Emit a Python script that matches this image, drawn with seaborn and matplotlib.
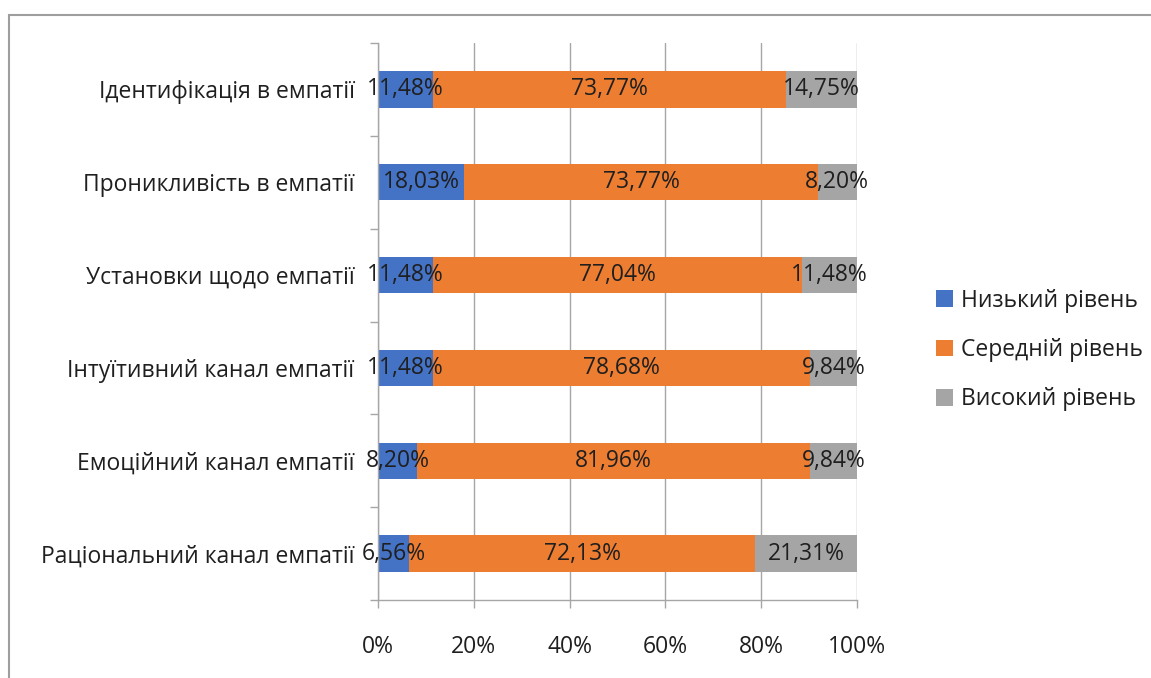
import matplotlib
matplotlib.use("Agg")
import matplotlib.pyplot as plt
from matplotlib.patches import Rectangle, Patch
import seaborn as sns
import pandas as pd
import numpy as np

categories = [
    "Ідентифікація в емпатії",
    "Проникливість в емпатії",
    "Установки щодо емпатії",
    "Інтуїтивний канал емпатії",
    "Емоційний канал емпатії",
    "Раціональний канал емпатії",
]
low = [11.48, 18.03, 11.48, 11.48, 8.20, 6.56]
mid = [73.77, 73.77, 77.04, 78.68, 81.96, 72.13]
high = [14.75, 8.20, 11.48, 9.84, 9.84, 21.31]
series_names = ["Низький рівень", "Середній рівень", "Високий рівень"]
colors = ["#4472C4", "#ED7D31", "#A5A5A5"]
x_ticks = [0, 20, 40, 60, 80, 100]

sns.set_style("white")
FONT = ["Open Sans", "DejaVu Sans"]
plt.rcParams["font.family"] = FONT
FS = 16.5
TXT = "#1F1F1F"

low_a = np.array(low)
mid_a = np.array(mid)
high_a = np.array(high)
df = pd.DataFrame({
    "cat": categories,
    "c1": low_a,
    "c2": low_a + mid_a,
    "c3": low_a + mid_a + high_a,
})

fig = plt.figure(figsize=(11.51, 6.78), dpi=100)
ax = fig.add_axes([378/1151, 1-600/678, (857-378)/1151, (600-43)/678])

W = 0.39
for col, c in zip(["c3", "c2", "c1"], [colors[2], colors[1], colors[0]]):
    sns.barplot(data=df, x=col, y="cat", order=categories, color=c,
                width=W, saturation=1, ax=ax, zorder=3, edgecolor="none")

ax.set_xlim(0, 100)
ax.set_ylim(5.5, -0.5)
ax.set_xlabel("")
ax.set_ylabel("")

# gridlines
ax.set_xticks(x_ticks)
ax.set_xticklabels([f"{v}%" for v in x_ticks], fontsize=FS, color=TXT)
ax.grid(axis="x", color="#A6A6A6", linewidth=1.0, zorder=0)
ax.grid(axis="y", visible=False)
ax.tick_params(axis="x", direction="out", length=6, width=1, color="#A6A6A6",
               pad=19, bottom=True)

ax.set_yticks(range(len(categories)))
ax.set_yticklabels(categories, fontsize=FS, color=TXT)
ax.tick_params(axis="y", which="major", length=0, pad=17)
ax.set_yticks(np.arange(-0.5, len(categories), 1.0), minor=True)
ax.tick_params(axis="y", which="minor", direction="out", length=6, width=1,
               color="#A6A6A6", left=True)

for s in ["top", "right"]:
    ax.spines[s].set_visible(False)
for s in ["left", "bottom"]:
    ax.spines[s].set_color("#A6A6A6")
    ax.spines[s].set_linewidth(1.0)
    ax.spines[s].set_zorder(4)

# data labels
for i in range(len(categories)):
    starts = [0, low_a[i], low_a[i] + mid_a[i]]
    vals = [low_a[i], mid_a[i], high_a[i]]
    for s, v in zip(starts, vals):
        ax.text(s + v/2, i, f"{v:.2f}%".replace(".", ","), ha="center",
                va="center", fontsize=FS, color=TXT, zorder=5)

handles = [Patch(facecolor=c, edgecolor="none") for c in colors]
fig.legend(handles, series_names, loc="center left",
           bbox_to_anchor=(915/1151, 1-350/678), frameon=False,
           fontsize=FS, handlelength=0.75, handleheight=0.75,
           handletextpad=0.35, labelspacing=1.1, labelcolor=TXT)

fig.patches.append(Rectangle((9/1151, -0.5), 2.0, 0.5 + 1 - 15/678,
                             transform=fig.transFigure, fill=False,
                             edgecolor="#9E9E9E", linewidth=1.5))

fig.savefig("out.png", dpi=100)
